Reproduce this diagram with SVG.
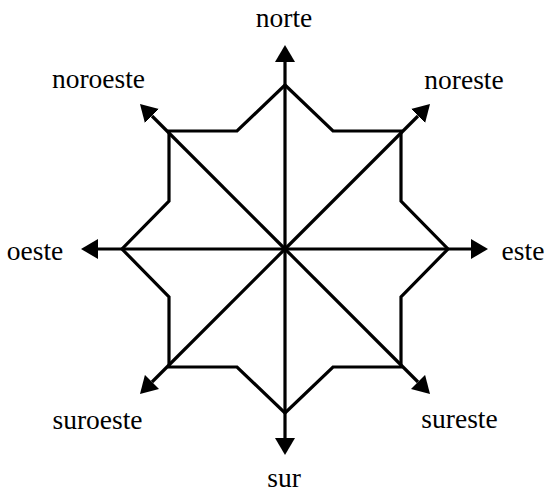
<svg xmlns="http://www.w3.org/2000/svg" width="549" height="496" viewBox="0 0 549 496">
  <style>
    .ln { stroke: #000; stroke-width: 3.2; fill: none; }
    .lbl { font-family: "Liberation Serif", "Times New Roman", serif; font-size: 27.5px; fill: #000; text-anchor: middle; }
  </style>
  <defs>
    <marker id="ah" viewBox="0 0 17 20" refX="0" refY="10" markerWidth="17" markerHeight="20" markerUnits="userSpaceOnUse" orient="auto">
      <path d="M0,0 L17,10 L0,20 z" fill="#000"/>
    </marker>
  </defs>
  <rect width="549" height="496" fill="#fff"/>
  <g id="star">
    <polygon class="ln" stroke-linejoin="miter" points="285,85 333,131 401,131 401,201 448,249 401,297 401,367 333,367 285,413 237,367 169,367 169,297 122,249 169,201 169,131 237,131"/>
  </g>
  <g id="connectors">
    <line class="ln" x1="285" y1="249" x2="285" y2="62" marker-end="url(#ah)"/>
    <line class="ln" x1="285" y1="249" x2="285" y2="438" marker-end="url(#ah)"/>
    <line class="ln" x1="285" y1="249" x2="471" y2="249" marker-end="url(#ah)"/>
    <line class="ln" x1="285" y1="249" x2="98" y2="249" marker-end="url(#ah)"/>
    <line class="ln" x1="285" y1="249" x2="152" y2="116" marker-end="url(#ah)"/>
    <line class="ln" x1="285" y1="249" x2="418" y2="116" marker-end="url(#ah)"/>
    <line class="ln" x1="285" y1="249" x2="152" y2="382" marker-end="url(#ah)"/>
    <line class="ln" x1="285" y1="249" x2="418" y2="382" marker-end="url(#ah)"/>
  </g>
  <g id="norte"><text class="lbl" x="284" y="27">norte</text></g>
  <g id="noroeste"><text class="lbl" x="98.5" y="88">noroeste</text></g>
  <g id="noreste"><text class="lbl" x="464" y="89">noreste</text></g>
  <g id="oeste"><text class="lbl" x="35" y="260">oeste</text></g>
  <g id="este"><text class="lbl" x="523" y="260">este</text></g>
  <g id="suroeste"><text class="lbl" x="97.5" y="429">suroeste</text></g>
  <g id="sureste"><text class="lbl" x="459.5" y="428">sureste</text></g>
  <g id="sur"><text class="lbl" x="284" y="487">sur</text></g>
</svg>
